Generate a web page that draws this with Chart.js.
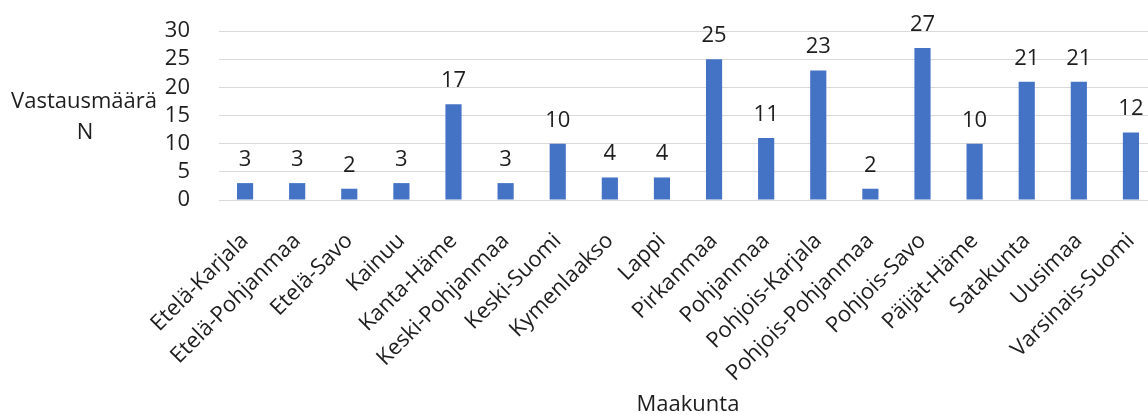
<!DOCTYPE html>
<html>
<head>
<meta charset="utf-8">
<script src="https://cdn.jsdelivr.net/npm/chart.js@4"></script>
<style>
  body { margin: 0; background: #fff; overflow: hidden; }
  #wrap { width: 1157px; height: 414px; }
</style>
</head>
<body>
<div id="wrap"><canvas id="chart"></canvas></div>
<script>
const regions = [
  "Etelä-Karjala", "Etelä-Pohjanmaa", "Etelä-Savo", "Kainuu", "Kanta-Häme",
  "Keski-Pohjanmaa", "Keski-Suomi", "Kymenlaakso", "Lappi", "Pirkanmaa",
  "Pohjanmaa", "Pohjois-Karjala", "Pohjois-Pohjanmaa", "Pohjois-Savo",
  "Päijät-Häme", "Satakunta", "Uusimaa", "Varsinais-Suomi"
];
const counts = [3, 3, 2, 3, 17, 3, 10, 4, 4, 25, 11, 23, 2, 27, 10, 21, 21, 12];
const yTitle = ["Vastausmäärä", "N"];
const xTitle = "Maakunta";

const font = "'Open Sans', sans-serif";
const textColor = "#1e1e1e";

const barLabels = {
  id: "barLabels",
  afterDatasetsDraw(chart) {
    const ctx = chart.ctx;
    const meta = chart.getDatasetMeta(0);
    ctx.save();
    ctx.font = "22px " + font;
    ctx.fillStyle = textColor;
    ctx.textAlign = "center";
    ctx.textBaseline = "alphabetic";
    meta.data.forEach((bar, i) => {
      ctx.fillText(counts[i], bar.x, bar.y - 17);
    });
    ctx.restore();
  },
  afterDraw(chart) {
    const ctx = chart.ctx;
    ctx.save();
    ctx.font = "22px " + font;
    ctx.fillStyle = textColor;
    ctx.textAlign = "center";
    ctx.textBaseline = "middle";
    ctx.fillText(yTitle[0], 84, 102);
    ctx.fillText(yTitle[1], 85, 133);
    ctx.restore();
  }
};

new Chart(document.getElementById("chart"), {
  type: "bar",
  data: {
    labels: regions,
    datasets: [
      {
        data: counts,
        backgroundColor: "#4472C4",
        barPercentage: 0.31,
        categoryPercentage: 1,
      },
    ],
  },
  options: {
    responsive: true,
    maintainAspectRatio: false,
    animation: false,
    layout: { padding: { top: 31, right: 0, left: 0, bottom: 0 } },
    plugins: {
      legend: { display: false },
      tooltip: { enabled: false },
    },
    scales: {
      x: {
        grid: { display: false },
        border: { color: "#d9d9d9" },
        ticks: {
          color: textColor,
          font: { family: font, size: 22 },
          minRotation: 45,
          maxRotation: 45,
          padding: 20,
        },
        title: {
          display: true,
          text: xTitle,
          color: textColor,
          font: { family: font, size: 22 },
          padding: { top: 0, bottom: -4 },
        },
        afterFit(scale) {
          scale.height = 214;
          scale.paddingLeft = 0;
          scale.paddingRight = 0;
          scale.paddingTop = 0;
          scale.paddingBottom = 0;
        },
      },
      y: {
        min: 0,
        max: 30,
        grid: { color: "#d9d9d9", drawTicks: false },
        border: { display: false },
        ticks: {
          stepSize: 5,
          autoSkip: false,
          color: textColor,
          font: { family: font, size: 22 },
          padding: 29,
        },
        afterFit(scale) {
          scale.width = 219;
          scale.paddingTop = 0;
          scale.paddingBottom = 0;
          scale.paddingLeft = 0;
          scale.paddingRight = 0;
        },
      },
    },
  },
  plugins: [barLabels],
});
</script>
</body>
</html>
